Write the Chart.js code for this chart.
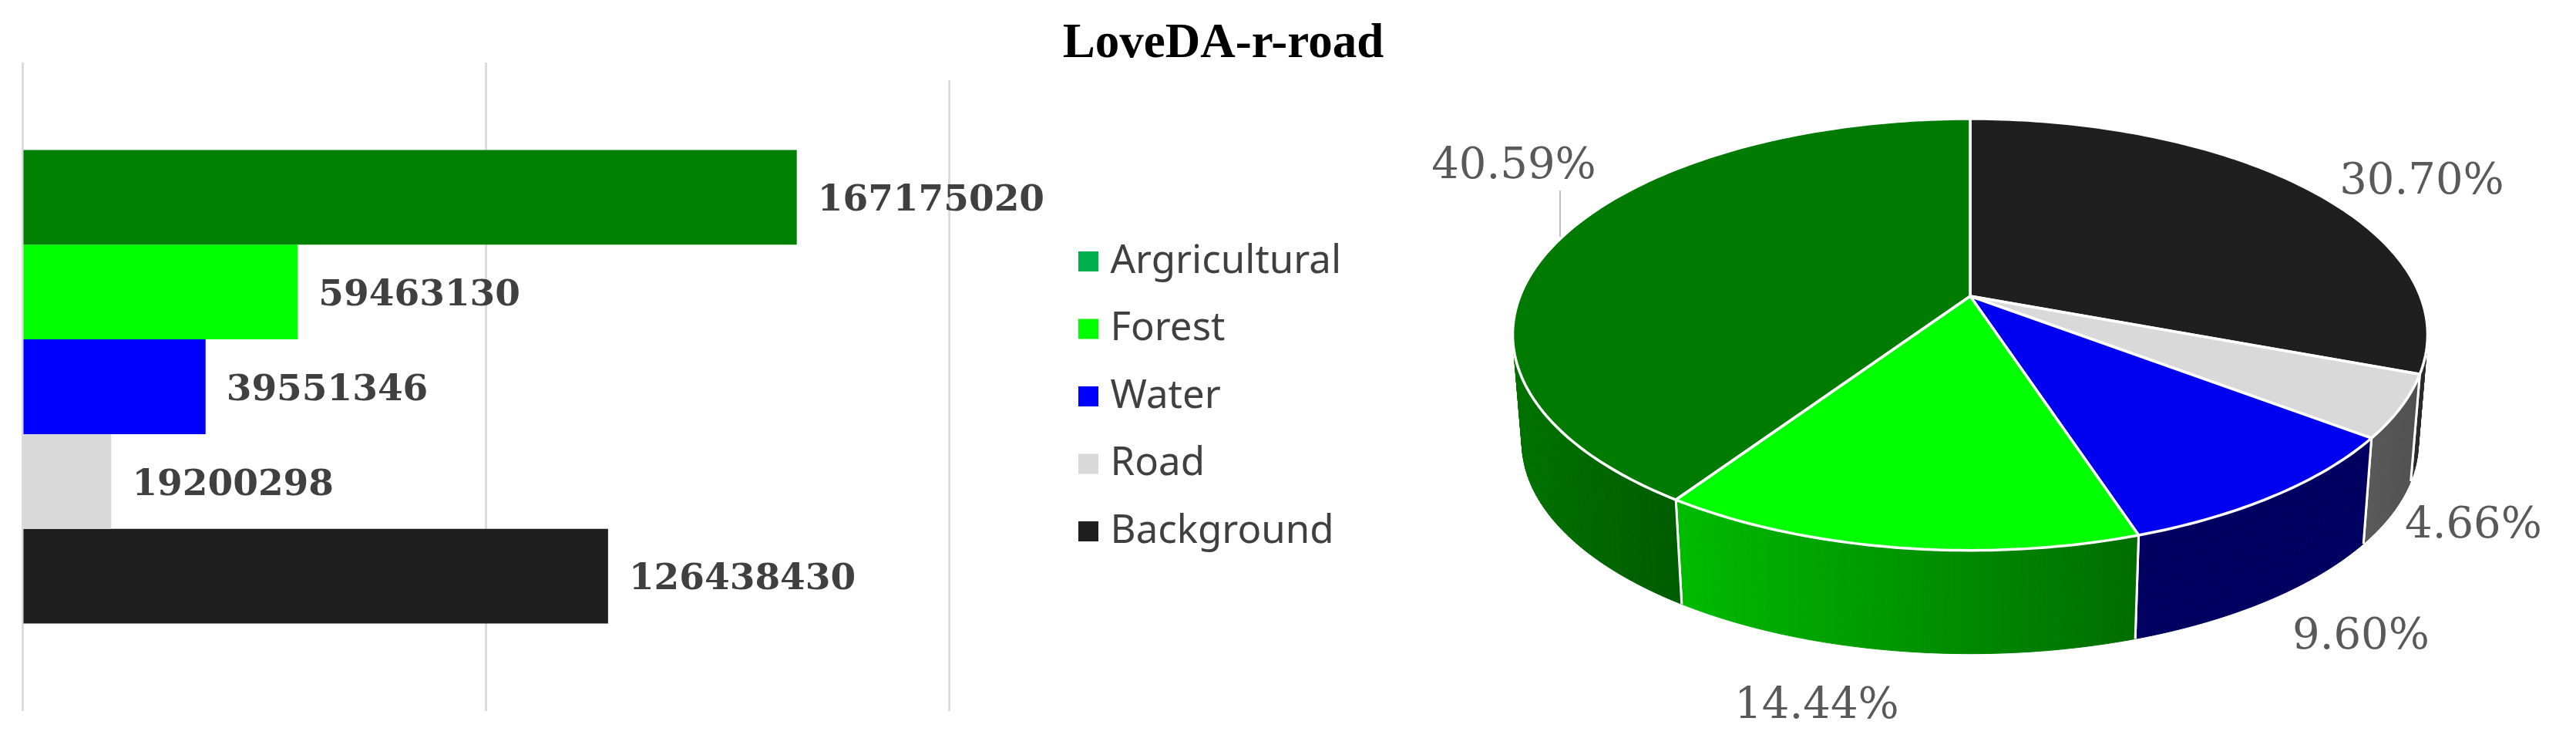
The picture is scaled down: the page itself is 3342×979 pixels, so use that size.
<!DOCTYPE html>
<html>
<head>
<meta charset="utf-8">
<title>LoveDA-r-road</title>
<script src="https://cdn.jsdelivr.net/npm/chart.js@4"></script>
<style>
html,body{margin:0;padding:0;background:#fff;overflow:hidden;width:3342px;height:979px}
canvas{position:absolute;top:0}
</style>
</head>
<body>
<canvas id="bars" width="3342" height="979" style="left:0;width:3342px;height:979px"></canvas>
<canvas id="pie" width="1572" height="979" style="left:1770px;width:1572px;height:979px"></canvas>
<script>
const titleText = 'LoveDA-r-road';
const classNames = ['Argricultural', 'Forest', 'Water', 'Road', 'Background'];
const pixelCounts = [167175020, 59463130, 39551346, 19200298, 126438430];
const percentLabels = ['40.59%', '14.44%', '9.60%', '4.66%', '30.70%'];
const axisTicks = [0, 100000000, 200000000];

const barColors = ['#008000', '#00FF00', '#0000FF', '#D9D9D9', '#1F1F1F'];
const legendColors = ['#00B050', '#00FF00', '#0000FF', '#D9D9D9', '#1F1F1F'];
const pieTopColors = ['#007A00', '#00FF00', '#0000F0', '#D9D9D9', '#1F1F1F'];
const pieWallGradients = [
  ['#007000', '#005C00'], ['#00BC00', '#006C00'], ['#000060', '#000060'],
  ['#595959', '#4F4F4F'], ['#2A2A2A', '#2A2A2A']
];
// canvas-pixel centres for the percentage labels, same order as classNames
const percentAnchors = [[194, 216], [587, 916], [1293, 826], [1439, 682], [1372, 236]];

Chart.defaults.animation = false;
Chart.defaults.responsive = false;

/* ---------- bars + legend + title ---------- */
const barValueLabels = {
  id: 'barValueLabels',
  beforeDatasetsDraw(chart) {
    // the last gridline starts lower than the others in the original
    const x = chart.scales.x.getPixelForValue(axisTicks[2]);
    chart.ctx.save();
    chart.ctx.fillStyle = '#FFFFFF';
    chart.ctx.fillRect(x - 4, chart.chartArea.top - 1, 8, 24);
    chart.ctx.restore();
  },
  afterDatasetsDraw(chart) {
    const ctx = chart.ctx;
    ctx.save();
    ctx.font = '600 47px "DejaVu Serif"';
    ctx.fillStyle = '#404040';
    ctx.textAlign = 'left';
    ctx.textBaseline = 'middle';
    chart.data.datasets.forEach((ds, i) => {
      const bar = chart.getDatasetMeta(i).data[0];
      ctx.fillText(String(ds.data[0]), bar.x + 27, bar.y + 5);
    });
    ctx.restore();
  }
};
const placeBlocks = {
  id: 'placeBlocks',
  afterLayout(chart) {
    const t = chart.titleBlock;
    t.left = 1087; t.right = 2087;
    t.top += 8; t.bottom += 8;
    const l = chart.legend;
    l.left = 1409 - l.options.labels.padding;
    l.right = l.left + 500;
    const mid = 514;
    l.top = mid - 260; l.bottom = mid + 260;
  }
};

new Chart(document.getElementById('bars'), {
  type: 'bar',
  data: {
    labels: [''],
    datasets: classNames.map((name, i) => ({
      label: name,
      data: [pixelCounts[i]],
      backgroundColor: barColors[i],
      categoryPercentage: 0.7301,
      barPercentage: 1
    }))
  },
  options: {
    indexAxis: 'y',
    layout: { padding: { left: 29, right: 2111, top: 18, bottom: 57 } },
    scales: {
      x: {
        min: axisTicks[0], max: axisTicks[axisTicks.length - 1],
        afterBuildTicks(s) { s.ticks = axisTicks.map(v => ({ value: v })); },
        ticks: { display: false },
        grid: { color: '#DCDCDC', lineWidth: 3, drawTicks: false },
        border: { display: false }
      },
      y: { display: false }
    },
    plugins: {
      title: {
        display: true, text: titleText, color: '#000000', padding: 0,
        font: { family: '"Liberation Serif"', weight: 'bold', size: 63, lineHeight: 1 }
      },
      tooltip: { enabled: false },
      legend: {
        position: 'chartArea',
        labels: {
          font: { family: '"Noto Sans"', size: 51 },
          color: '#404040',
          boxWidth: 6, boxHeight: 6,
          padding: 36.5,
          generateLabels: () => classNames.map((name, i) => ({
            text: name, fillStyle: legendColors[i], strokeStyle: legendColors[i],
            lineWidth: 20, datasetIndex: i, fontColor: '#404040'
          }))
        }
      }
    }
  },
  plugins: [barValueLabels, placeBlocks]
});

/* ---------- perspective 3D pie ---------- */
const tilt = { yScale: 0.464, persp: 0.178, depth: 140.6, shrink: 0.98 };

class Pie3DArc extends Chart.ArcElement {
  static id = 'pie3dArc';
  rim(theta, bottom) {
    const u = Math.cos(theta), v = Math.sin(theta);
    const d = 1 - tilt.persp * v;
    const R = this.outerRadius;
    let X = R * u / d, Y = R * tilt.yScale * v / d;
    if (bottom) { X *= tilt.shrink; Y = Y * tilt.shrink + tilt.depth; }
    return [this.x + X, this.y + Y];
  }
  draw(ctx) {
    const a0 = this.startAngle, a1 = this.endAngle;
    const n = Math.max(2, Math.ceil((a1 - a0) / (Math.PI / 180)));
    const angles = [];
    for (let i = 0; i <= n; i++) angles.push(a0 + (a1 - a0) * i / n);
    const idx = this.$context.index;
    const order = this.$context.dataset.sourceIndex[idx];

    // side wall: one quad per step, so the silhouette between both rims is filled
    const vis = angles.filter(t => Math.sin(t) > -0.12);
    if (vis.length > 1) {
      const p0 = this.rim(vis[0]), p1 = this.rim(vis[vis.length - 1]);
      const g = ctx.createLinearGradient(Math.min(p0[0], p1[0]), 0, Math.max(p0[0], p1[0]) + 1, 0);
      g.addColorStop(0, pieWallGradients[order][0]);
      g.addColorStop(1, pieWallGradients[order][1]);
      ctx.fillStyle = g;
      ctx.strokeStyle = g;
      ctx.lineWidth = 1;
      for (let i = 0; i < vis.length - 1; i++) {
        const a = this.rim(vis[i]), b = this.rim(vis[i + 1]);
        const c = this.rim(vis[i + 1], true), d = this.rim(vis[i], true);
        ctx.beginPath();
        ctx.moveTo(a[0], a[1]); ctx.lineTo(b[0], b[1]);
        ctx.lineTo(c[0], c[1]); ctx.lineTo(d[0], d[1]);
        ctx.closePath();
        ctx.fill();
        ctx.stroke();
      }
      ctx.strokeStyle = '#FFFFFF';
      ctx.lineWidth = 3;
      [vis[0], vis[vis.length - 1]].forEach(t => {
        if (Math.sin(t) < 0.02) return;
        const a = this.rim(t), b = this.rim(t, true);
        ctx.beginPath(); ctx.moveTo(a[0], a[1]); ctx.lineTo(b[0], b[1]); ctx.stroke();
      });
    }
    // top face
    ctx.beginPath();
    ctx.moveTo(this.x, this.y);
    angles.forEach(t => { const p = this.rim(t); ctx.lineTo(p[0], p[1]); });
    ctx.closePath();
    ctx.fillStyle = this.options.backgroundColor;
    ctx.fill();
    ctx.strokeStyle = '#FFFFFF';
    ctx.lineWidth = 3.5;
    ctx.lineJoin = 'round';
    ctx.stroke();
  }
}
class Pie3DController extends Chart.PieController {
  static id = 'pie3d';
  static defaults = Object.assign({}, Chart.PieController.defaults, { dataElementType: 'pie3dArc' });
  static overrides = Chart.PieController.overrides;
}
Chart.register(Pie3DArc, Pie3DController);

const piePercentLabels = {
  id: 'piePercentLabels',
  afterDatasetsDraw(chart) {
    const ctx = chart.ctx;
    ctx.save();
    // leader line for the largest slice
    ctx.strokeStyle = '#BFBFBF';
    ctx.lineWidth = 2;
    ctx.beginPath(); ctx.moveTo(254, 247); ctx.lineTo(254, 307); ctx.stroke();
    ctx.font = '56px "DejaVu Serif"';
    ctx.fillStyle = '#595959';
    ctx.textAlign = 'center';
    ctx.textBaseline = 'middle';
    percentLabels.forEach((txt, i) => ctx.fillText(txt, percentAnchors[i][0], percentAnchors[i][1]));
    ctx.restore();
  }
};

const pieOrder = classNames.map((_, i) => classNames.length - 1 - i);
new Chart(document.getElementById('pie'), {
  type: 'pie3d',
  data: {
    labels: pieOrder.map(i => classNames[i]),
    datasets: [{
      data: pieOrder.map(i => pixelCounts[i]),
      backgroundColor: pieOrder.map(i => pieTopColors[i]),
      sourceIndex: pieOrder,
      borderWidth: 0
    }]
  },
  options: {
    radius: 584,
    layout: { padding: { bottom: 211 } },
    plugins: { legend: { display: false }, tooltip: { enabled: false } }
  },
  plugins: [piePercentLabels]
});
</script>
</body>
</html>
